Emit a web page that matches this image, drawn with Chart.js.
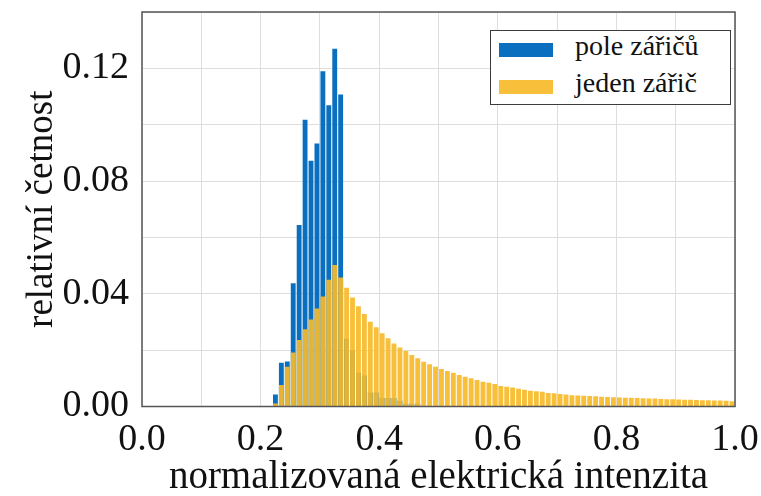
<!DOCTYPE html>
<html>
<head>
<meta charset="utf-8">
<script src="https://cdn.jsdelivr.net/npm/chart.js@4.4.1/dist/chart.umd.min.js"></script>
<style>
  body { margin: 0; background: #fff; }
  #wrap { position: relative; width: 761px; height: 496px; }
  #legenda {
    position: absolute; left: 490px; top: 30px; width: 241px; height: 75px;
    border: 1px solid #3c3c3c; background: #fff; box-sizing: border-box;
    font-family: 'Liberation Serif', serif; font-size: 28px; color: #111;
  }
  #legenda .sw { position: absolute; left: 8px; width: 54px; height: 14px; }
  #legenda .tx { position: absolute; left: 84px; line-height: 28px; white-space: nowrap; }
</style>
</head>
<body>
<div id="wrap">
  <canvas id="graf" width="761" height="496"></canvas>
  <div id="legenda"></div>
</div>
<script>
// stredy binu (sirka 0.01)
const stredyBinu = [
  0.225, 0.235, 0.245, 0.255, 0.265, 0.275, 0.285, 0.295, 0.305, 0.315,
  0.325, 0.335, 0.345, 0.355, 0.365, 0.375, 0.385, 0.395, 0.405, 0.415,
  0.425, 0.435, 0.445, 0.455, 0.465, 0.475, 0.485, 0.495, 0.505, 0.515,
  0.525, 0.535, 0.545, 0.555, 0.565, 0.575, 0.585, 0.595, 0.605, 0.615,
  0.625, 0.635, 0.645, 0.655, 0.665, 0.675, 0.685, 0.695, 0.705, 0.715,
  0.725, 0.735, 0.745, 0.755, 0.765, 0.775, 0.785, 0.795, 0.805, 0.815,
  0.825, 0.835, 0.845, 0.855, 0.865, 0.875, 0.885, 0.895, 0.905, 0.915,
  0.925, 0.935, 0.945, 0.955, 0.965, 0.975, 0.985, 0.995
];

// pole zaricu - od prvniho binu
const polePocty = [
  0.0043, 0.0155, 0.0160, 0.0437, 0.0644, 0.1018, 0.0872, 0.0933, 0.1190, 0.1069,
  0.1270, 0.1107, 0.0240, 0.0200, 0.0120, 0.0110, 0.0050, 0.0050, 0.0030, 0.0030,
  0.0030, 0.0020, 0.0010, 0.0010, 0.0010
];

// jeden zaric
const jedenPocty = [
  0.0011, 0.0076, 0.0141, 0.0192, 0.0236, 0.0274, 0.0309, 0.0348, 0.0390, 0.0450,
  0.0502, 0.0458, 0.0421, 0.0387, 0.0356, 0.0328, 0.0301, 0.0281, 0.0260, 0.0242,
  0.0224, 0.0209, 0.0197, 0.0183, 0.0171, 0.0159, 0.0150, 0.0141, 0.0133, 0.0126,
  0.0120, 0.0112, 0.0106, 0.0100, 0.0094, 0.0088, 0.0084, 0.0080, 0.0073, 0.0070,
  0.0067, 0.0063, 0.0059, 0.0056, 0.0054, 0.0052, 0.0048, 0.0047, 0.0044, 0.0043,
  0.0040, 0.0039, 0.0038, 0.0037, 0.0036, 0.0035, 0.0034, 0.0033, 0.0032, 0.0031,
  0.0031, 0.0030, 0.0029, 0.0028, 0.0028, 0.0027, 0.0026, 0.0026, 0.0025, 0.0024,
  0.0024, 0.0023, 0.0022, 0.0022, 0.0021, 0.0021, 0.0020, 0.0019
];

const modra = '#0b6fbf';
const zluta = 'rgba(247, 186, 42, 0.92)';
const pismo = 'Liberation Serif';

// ramecek kolem celeho grafu
const ramecek = {
  id: 'ramecek',
  afterDatasetsDraw(chart) {
    const a = chart.chartArea;
    const ctx = chart.ctx;
    ctx.save();
    ctx.strokeStyle = '#555';
    ctx.lineWidth = 1.5;
    ctx.strokeRect(a.left, a.top, a.right - a.left, a.bottom - a.top);
    ctx.restore();
  }
};

const ctx = document.getElementById('graf').getContext('2d');
const graf = new Chart(ctx, {
  type: 'bar',
  data: {
    datasets: [
      {
        label: 'pole zářičů',
        data: polePocty.map((v, i) => ({ x: stredyBinu[i], y: v })),
        backgroundColor: modra,
        order: 1
      },
      {
        label: 'jeden zářič',
        data: jedenPocty.map((v, i) => ({ x: stredyBinu[i], y: v })),
        backgroundColor: zluta,
        order: 0
      }
    ]
  },
  options: {
    responsive: false,
    animation: false,
    devicePixelRatio: 1,
    grouped: false,
    barPercentage: 0.82,
    categoryPercentage: 1.0,
    layout: { padding: { left: 0, right: 26, top: 12, bottom: 0 } },
    plugins: {
      legend: { display: false },
      tooltip: { enabled: false }
    },
    scales: {
      x: {
        type: 'linear',
        min: 0, max: 1,
        offset: false,
        grid: { color: '#dedede', lineWidth: 1, offset: false, drawTicks: false },
        border: { display: false },
        ticks: {
          stepSize: 0.1,
          autoSkip: false,
          maxRotation: 0,
          padding: 11,
          color: '#111',
          font: { family: pismo, size: 38 },
          callback: v => (Math.round(v * 10) % 2 === 0 ? v.toFixed(1) : '')
        },
        title: {
          display: true,
          text: 'normalizovaná elektrická intenzita',
          color: '#111',
          font: { family: pismo, size: 39 },
          padding: { top: 0, bottom: -5 }
        },
        afterFit: s => {
          s.height = 89.5;
          s.paddingLeft = 0;
          s.paddingRight = 0;
        }
      },
      y: {
        min: 0, max: 0.14,
        grid: { color: '#dedede', lineWidth: 1, drawTicks: false },
        border: { display: false },
        ticks: {
          stepSize: 0.02,
          padding: 13,
          color: '#111',
          font: { family: pismo, size: 38 },
          callback: v => (Math.round(v * 100) % 4 === 0 ? v.toFixed(2) : '')
        },
        title: {
          display: true,
          text: 'relativní četnost',
          color: '#111',
          font: { family: pismo, size: 37 },
          padding: { top: 20, bottom: 0 }
        },
        afterFit: s => {
          s.width = 142;
          s.paddingTop = 0;
          s.paddingBottom = 0;
        }
      }
    }
  },
  plugins: [ramecek]
});

// legenda v rohu
const leg = document.getElementById('legenda');
graf.data.datasets.forEach((ds, i) => {
  const sw = document.createElement('div');
  sw.className = 'sw';
  sw.style.top = (12 + i * 37) + 'px';
  sw.style.background = ds.backgroundColor;
  const tx = document.createElement('div');
  tx.className = 'tx';
  tx.style.top = (1 + i * 37) + 'px';
  tx.textContent = ds.label;
  leg.appendChild(sw);
  leg.appendChild(tx);
});
</script>
</body>
</html>
